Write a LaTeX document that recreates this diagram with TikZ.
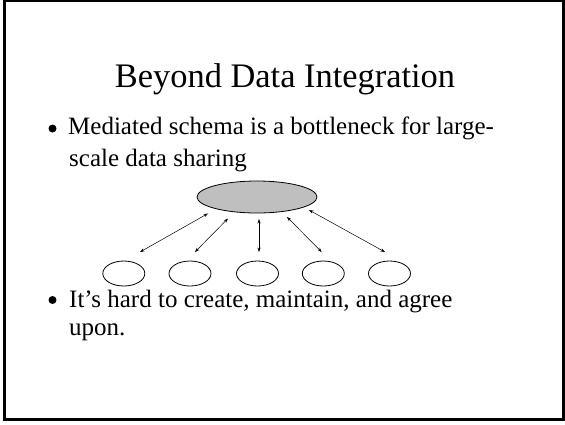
\documentclass[tikz,border=0pt]{standalone}
\usepackage{fontspec}
\setmainfont{Liberation Serif}
\usetikzlibrary{arrows.meta,shapes.geometric}

\tikzset{
  frame/.style={draw=black, line width=3pt},
  titletext/.style={inner sep=0pt, anchor=base, font=\fontsize{34.4}{40}\selectfont},
  bodytext/.style={inner sep=0pt, anchor=base west, font=\fontsize{25}{30}\selectfont},
  bulletdot/.style={circle, fill=black, inner sep=0pt, minimum size=8pt},
  schemanode/.style={ellipse, draw=black, line width=0.8pt, fill=black!25,
    minimum width=120pt, minimum height=32pt, inner sep=0pt},
  sourcenode/.style={ellipse, draw=black, line width=0.8pt, fill=white,
    minimum width=42pt, minimum height=25pt, inner sep=0pt},
  link/.style={line width=0.5pt, {Stealth[length=4.5pt,width=3.2pt]}-{Stealth[length=4.5pt,width=3.2pt]}}
}

\begin{document}
\begin{tikzpicture}[x=1pt, y=-1pt]
  \useasboundingbox (0,0) rectangle (565,424);
  \draw[frame] (4.5,0.5) rectangle (563.5,419.5);

  % title
  \node[titletext] (title) at (285,87) {Beyond Data Integration};

  % first bullet
  \node[bulletdot] (b1) at (52.5,128.5) {};
  \node[bodytext] (l1) at (68,134) {Mediated schema is a bottleneck for large-};
  \node[bodytext] (l2) at (69,166) {scale data sharing};

  % mediated schema and the sources around it
  \node[schemanode] (big) at (257,197) {};
  \node[sourcenode] (s1) at (123.8,273.5) {};
  \node[sourcenode] (s2) at (190,273.5) {};
  \node[sourcenode] (s3) at (257.5,273.5) {};
  \node[sourcenode] (s4) at (323.3,273.5) {};
  \node[sourcenode] (s5) at (389.5,273.5) {};

  \draw[link] ([shift={(16.2,-21.5)}]s1.center) -- ([shift={(-49,16.5)}]big.center);
  \draw[link] ([shift={(5,-21.5)}]s2.center) -- ([shift={(-29,21.5)}]big.center);
  \draw[link] ([shift={(1.5,-21.5)}]s3.center) -- ([shift={(2,22)}]big.center);
  \draw[link] ([shift={(-1.6,-21.5)}]s4.center) -- ([shift={(30,20)}]big.center);
  \draw[link] ([shift={(-4.5,-21.5)}]s5.center) -- ([shift={(52,13)}]big.center);

  % second bullet
  \node[bulletdot] (b2) at (52.5,300) {};
  \node[bodytext] (l3) at (69,307) {It’s hard to create, maintain, and agree};
  \node[bodytext] (l4) at (69,335) {upon.};
\end{tikzpicture}
\end{document}
